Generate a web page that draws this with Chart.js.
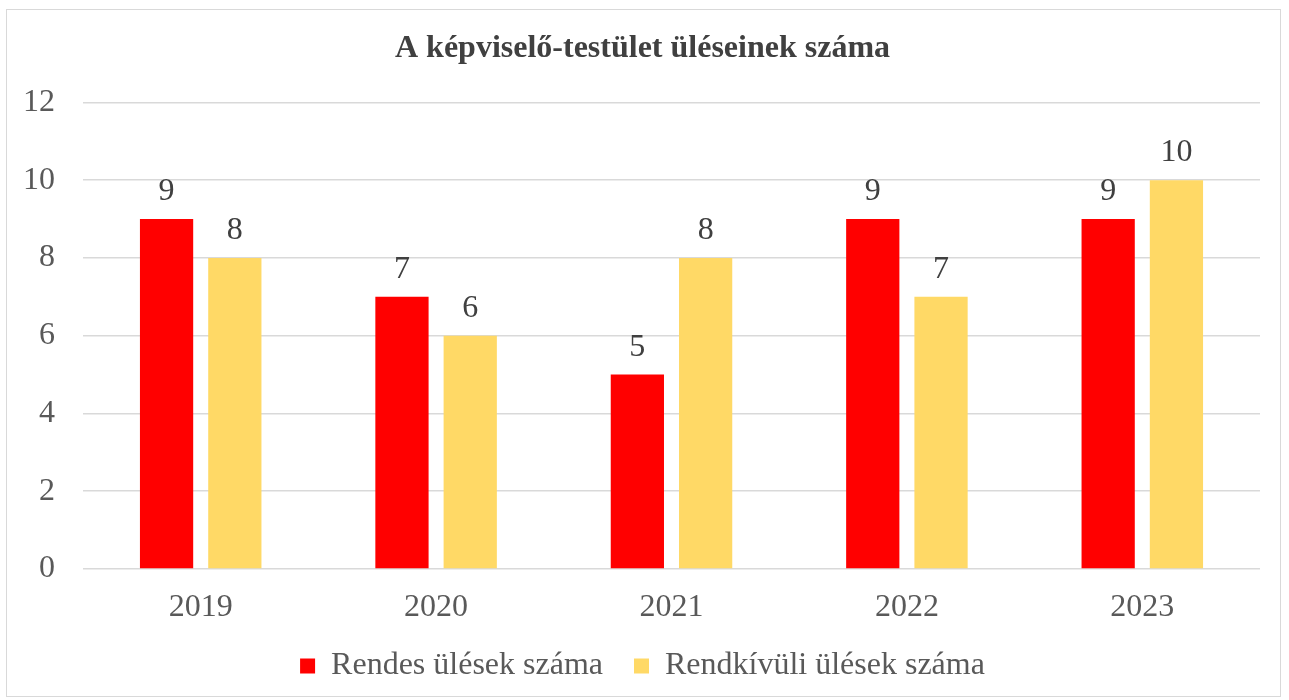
<!DOCTYPE html>
<html>
<head>
<meta charset="utf-8">
<script src="https://cdn.jsdelivr.net/npm/chart.js@4/dist/chart.umd.min.js"></script>
<style>
  html, body { margin: 0; padding: 0; background: #fff; }
  #wrap { position: absolute; left: 6px; top: 9px; width: 1275px; height: 688px; border: 1px solid #d9d9d9; box-sizing: border-box; }
  #grafico { display: block; }
</style>
</head>
<body>
<div id="wrap"><canvas id="grafico" width="1273" height="686"></canvas></div>
<script>
// ─── DATA ──────────────────────────────────────────────────────────
const evek      = ["2019", "2020", "2021", "2022", "2023"];
const rendes    = [9, 7, 5, 9, 9];
const rendkivul = [8, 6, 8, 7, 10];
const yTicks    = [0, 2, 4, 6, 8, 10, 12];

const FONT = "'Liberation Serif', 'Times New Roman', serif";

// simple value labels above the bars
const ertekCimkek = {
  id: "ertekCimkek",
  afterDatasetsDraw(chart){
    const ctx = chart.ctx;
    ctx.save();
    ctx.font = `32px ${FONT}`;
    ctx.fillStyle = "#404040";
    ctx.textAlign = "center";
    ctx.textBaseline = "alphabetic";
    chart.data.datasets.forEach((ds, i) => {
      chart.getDatasetMeta(i).data.forEach((bar, j) => {
        ctx.fillText(String(ds.data[j]), bar.x, bar.y - 19);
      });
    });
    ctx.restore();
  }
};

new Chart(document.getElementById("grafico").getContext("2d"), {
  type: "bar",
  data: {
    labels: evek,
    datasets: [
      { label: "Rendes ülések száma",    data: rendes,    backgroundColor: "#ff0000" },
      { label: "Rendkívüli ülések száma", data: rendkivul, backgroundColor: "#ffd966" }
    ]
  },
  options: {
    responsive: false, animation: false,
    layout: { padding: { left: 18, right: 20, top: 0, bottom: 4 } },
    datasets: { bar: { categoryPercentage: 0.58, barPercentage: 0.78 } },
    plugins: {
      title: {
        display: true, text: "A képviselő-testület üléseinek száma",
        color: "#404040", font: { family: FONT, size: 32, weight: "bold" },
        padding: { top: 20, bottom: 34 }
      },
      legend: {
        position: "bottom",
        maxHeight: 76,
        labels: { color: "#595959", font: { family: FONT, size: 32 }, boxWidth: 15, boxHeight: 15, padding: 31 }
      },
      tooltip: { enabled: false }
    },
    scales: {
      x: {
        grid: { display: false },
        border: { display: false },
        ticks: { color: "#595959", font: { family: FONT, size: 32 }, padding: 11 },
        afterFit: ax => { ax.height = 50; }
      },
      y: {
        min: 0, max: 12,
        afterBuildTicks: ax => { ax.ticks = yTicks.map(v => ({ value: v })); },
        afterFit: ax => { ax.width = 58; },
        grid: { color: "#d9d9d9", lineWidth: 1.5, drawTicks: false },
        border: { display: false },
        ticks: { color: "#595959", font: { family: FONT, size: 32 }, padding: 28 }
      }
    }
  },
  plugins: [ertekCimkek]
});
</script>
</body>
</html>
